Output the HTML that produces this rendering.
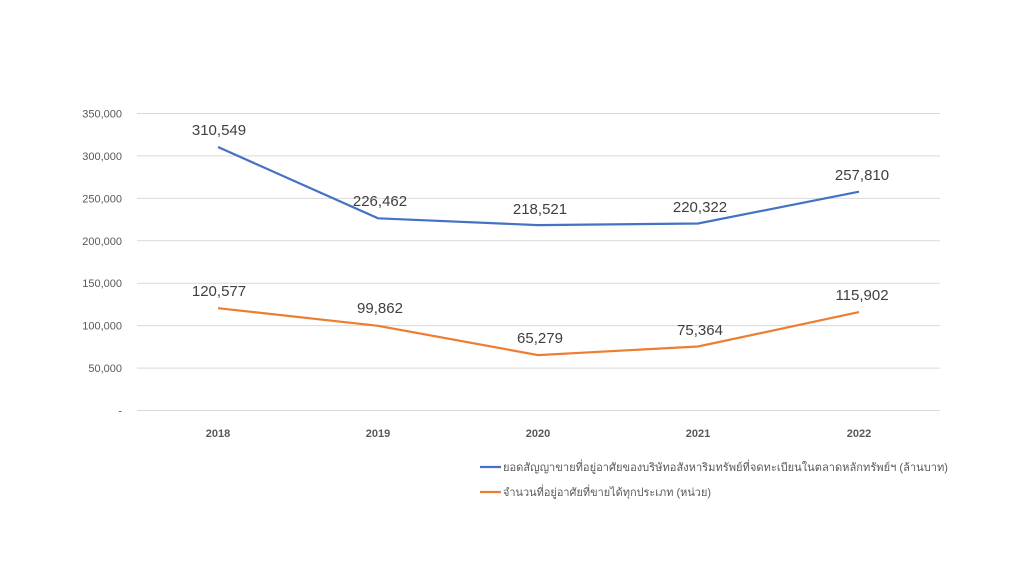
<!DOCTYPE html>
<html><head><meta charset="utf-8"><style>
body{margin:0;background:#fff;}
svg{display:block;font-family:"Liberation Sans",sans-serif;}
</style></head><body>
<svg width="1024" height="576" viewBox="0 0 1024 576">
<rect width="1024" height="576" fill="#fff"/>
<g stroke="#d9d9d9" stroke-width="1">
<line x1="137" x2="940" y1="113.5" y2="113.5"/>
<line x1="137" x2="940" y1="155.9" y2="155.9"/>
<line x1="137" x2="940" y1="198.4" y2="198.4"/>
<line x1="137" x2="940" y1="240.8" y2="240.8"/>
<line x1="137" x2="940" y1="283.2" y2="283.2"/>
<line x1="137" x2="940" y1="325.6" y2="325.6"/>
<line x1="137" x2="940" y1="368.1" y2="368.1"/>
<line x1="137" x2="940" y1="410.5" y2="410.5"/>
</g>
<g fill="#595959" font-size="11" text-anchor="end">
<text x="122" y="117.5">350,000</text>
<text x="122" y="160">300,000</text>
<text x="122" y="202.4">250,000</text>
<text x="122" y="244.8">200,000</text>
<text x="122" y="287.2">150,000</text>
<text x="122" y="329.6">100,000</text>
<text x="122" y="372">50,000</text>
<text x="122" y="414.5">-</text>
</g>
<g fill="#595959" font-size="11" font-weight="bold" text-anchor="middle">
<text x="218" y="437">2018</text>
<text x="378" y="437">2019</text>
<text x="538" y="437">2020</text>
<text x="698" y="437">2021</text>
<text x="859" y="437">2022</text>
</g>
<polyline fill="none" stroke="#4472c4" stroke-width="2.2" points="218,147 378,218.3 538,225.1 698,223.5 859,191.7"/>
<polyline fill="none" stroke="#ed7d31" stroke-width="2.2" points="218,308.2 378,325.8 538,355.1 698,346.5 859,312.1"/>
<g fill="#404040" font-size="15" text-anchor="middle">
<text x="219" y="135">310,549</text>
<text x="380" y="206">226,462</text>
<text x="540" y="214">218,521</text>
<text x="700" y="212">220,322</text>
<text x="862" y="180">257,810</text>
<text x="219" y="296">120,577</text>
<text x="380" y="313">99,862</text>
<text x="540" y="343">65,279</text>
<text x="700" y="335">75,364</text>
<text x="862" y="300">115,902</text>
</g>
<line x1="480" x2="501" y1="467" y2="467" stroke="#4472c4" stroke-width="2.2"/>
<line x1="480" x2="501" y1="492" y2="492" stroke="#ed7d31" stroke-width="2.2"/>
<g fill="#595959" font-size="11" font-family="'Liberation Sans','DejaVu Sans',sans-serif">
<text x="503" y="471" textLength="445" lengthAdjust="spacingAndGlyphs">ยอดสัญญาขายที่อยู่อาศัยของบริษัทอสังหาริมทรัพย์ที่จดทะเบียนในตลาดหลักทรัพย์ฯ  (ล้านบาท)</text>
<text x="503" y="496" textLength="208" lengthAdjust="spacingAndGlyphs">จำนวนที่อยู่อาศัยที่ขายได้ทุกประเภท  (หน่วย)</text>
</g>
</svg>
</body></html>
